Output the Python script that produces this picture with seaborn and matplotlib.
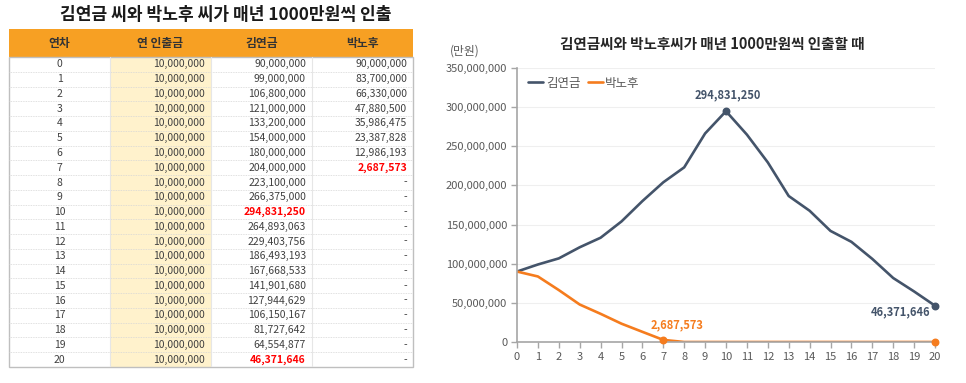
import numpy as np
import pandas as pd
import matplotlib
matplotlib.use("Agg")
import matplotlib.pyplot as plt
import seaborn as sns
from matplotlib.patches import Rectangle
from matplotlib.lines import Line2D
from matplotlib.ticker import FuncFormatter

# data
years = list(range(21))
withdraw = [10000000, 10000000, 10000000, 10000000, 10000000, 10000000, 10000000,
            10000000, 10000000, 10000000, 10000000, 10000000, 10000000, 10000000,
            10000000, 10000000, 10000000, 10000000, 10000000, 10000000, 10000000]
kim = [90000000, 99000000, 106800000, 121000000, 133200000, 154000000, 180000000,
       204000000, 223100000, 266375000, 294831250, 264893063, 229403756, 186493193,
       167668533, 141901680, 127944629, 106150167, 81727642, 64554877, 46371646]
park = [90000000, 83700000, 66330000, 47880500, 35986475, 23387828, 12986193,
        2687573, 0, 0, 0, 0, 0, 0, 0, 0, 0, 0, 0, 0, 0]
columns = ["연차", "연 인출금", "김연금", "박노후"]
red_cells = [(2, 10), (2, 20), (3, 7)]   # (column, row)

slate = "#44546A"
orange = "#F57C1E"
gray_txt = "#595959"

sns.set_theme(style="white")
plt.rcParams['font.family'] = ['Noto Sans CJK KR', 'DejaVu Sans']

fig = plt.figure(figsize=(9.66, 3.83), dpi=100)

# ---- table on the left ----
ax_t = fig.add_axes([9 / 966, 1 - 367 / 383, 404 / 966, 338 / 383])
hh = 1.9
n = len(years)
ax_t.set_xlim(0, 4)
ax_t.set_ylim(n + hh, 0)
ax_t.axis('off')

ax_t.add_patch(Rectangle((0, 0), 4, hh, color="#F7A023", lw=0))
ax_t.add_patch(Rectangle((1, hh), 1, n, color="#FFF2CC", lw=0))
for j, c in enumerate(columns):
    ax_t.text(j + 0.5, hh / 2, c, ha='center', va='center',
              fontsize=8.5, fontweight='bold', color="#333333")

for i in range(1, n):
    ax_t.plot([0, 4], [hh + i, hh + i], color="#D6D6D6", lw=0.6, ls=(0, (1, 1)))
for j in range(1, 4):
    ax_t.plot([j, j], [hh, n + hh], color="#E6E6E6", lw=0.8)
ax_t.add_patch(Rectangle((0, hh), 4, n, fill=False, edgecolor="#BFBFBF",
                         lw=1.0, clip_on=False))

table_cols = [years, withdraw, kim, park]
for i in range(n):
    y = hh + i + 0.5
    for j, col in enumerate(table_cols):
        v = col[i]
        red = (j, i) in red_cells
        if j == 0:
            ax_t.text(0.5, y, str(v), ha='center', va='center',
                      fontsize=7.5, color="#404040")
        else:
            s = "-" if v == 0 else f"{v:,}"
            ax_t.text(j + 1 - 0.06, y, s, ha='right', va='center',
                      fontsize=7.5,
                      color="#FF0000" if red else "#404040",
                      fontweight='bold' if red else 'normal')

fig.text(226 / 966, 1 - 15 / 383, "김연금 씨와 박노후 씨가 매년 1000만원씩 인출",
         ha='center', va='center', fontsize=12.3, fontweight='bold', color="#1A1A1A")

# ---- line chart on the right ----
ax = fig.add_axes([517 / 966, 1 - 342 / 383, 418 / 966, 274 / 383])
df = pd.DataFrame({
    "연차": years + years,
    "금액": kim + park,
    "이름": ["김연금"] * len(kim) + ["박노후"] * len(park),
})
sns.lineplot(data=df, x="연차", y="금액", hue="이름",
             palette={"김연금": slate, "박노후": orange},
             lw=1.9, ax=ax, legend=False)

ax.set_xlim(0, 20)
ax.set_ylim(0, 350000000)
ax.set_xticks(years)
ax.set_yticks(np.arange(0, 350000001, 50000000))
ax.yaxis.set_major_formatter(FuncFormatter(lambda v, p: f"{int(v):,}"))
ax.set_xlabel("")
ax.set_ylabel("")
ax.grid(axis='y', color="#EFEFEF", lw=0.8)
ax.grid(axis='x', visible=False)
for side in ['top', 'right']:
    ax.spines[side].set_visible(False)
for side in ['left', 'bottom']:
    ax.spines[side].set_color("#A6A6A6")
    ax.spines[side].set_linewidth(1.2)
ax.tick_params(axis='both', direction='out', length=4, width=1, color="#A6A6A6",
               labelsize=8, labelcolor=gray_txt, pad=3)
ax.tick_params(axis='y', left=True)
ax.tick_params(axis='x', bottom=True)

# highlighted points
ax.scatter([10, 20], [kim[10], kim[20]], color=slate, s=22, zorder=5, clip_on=False)
ax.scatter([7, 20], [park[7], park[20]], color=orange, s=22, zorder=5, clip_on=False)
ax.annotate(f"{kim[10]:,}", (10, kim[10]), xytext=(1, 11.5), textcoords='offset points',
            ha='center', va='center', fontsize=8, fontweight='bold', color=slate)
ax.annotate(f"{park[7]:,}", (7, park[7]), xytext=(10, 11), textcoords='offset points',
            ha='center', va='center', fontsize=8, fontweight='bold', color=orange)
ax.annotate(f"{kim[20]:,}", (20, kim[20]), xytext=(-25, -4.5), textcoords='offset points',
            ha='center', va='center', fontsize=8, fontweight='bold', color=slate)

handles = [Line2D([0], [0], color=slate, lw=1.9, label="김연금"),
           Line2D([0], [0], color=orange, lw=1.9, label="박노후")]
ax.legend(handles=handles, loc='upper left', ncol=2, frameon=False, fontsize=9,
          handlelength=1.2, handletextpad=0.2, columnspacing=0.6,
          labelcolor=gray_txt, bbox_to_anchor=(0.0, 1.01))

fig.text(712 / 966, 1 - 44 / 383, "김연금씨와 박노후씨가 매년 1000만원씩 인출할 때",
         ha='center', va='center', fontsize=10.5, fontweight='bold', color="#262626")
fig.text(465 / 966, 1 - 51 / 383, "(만원)", ha='center', va='center',
         fontsize=8.5, color=gray_txt)

fig.savefig("out.png", dpi=100)
